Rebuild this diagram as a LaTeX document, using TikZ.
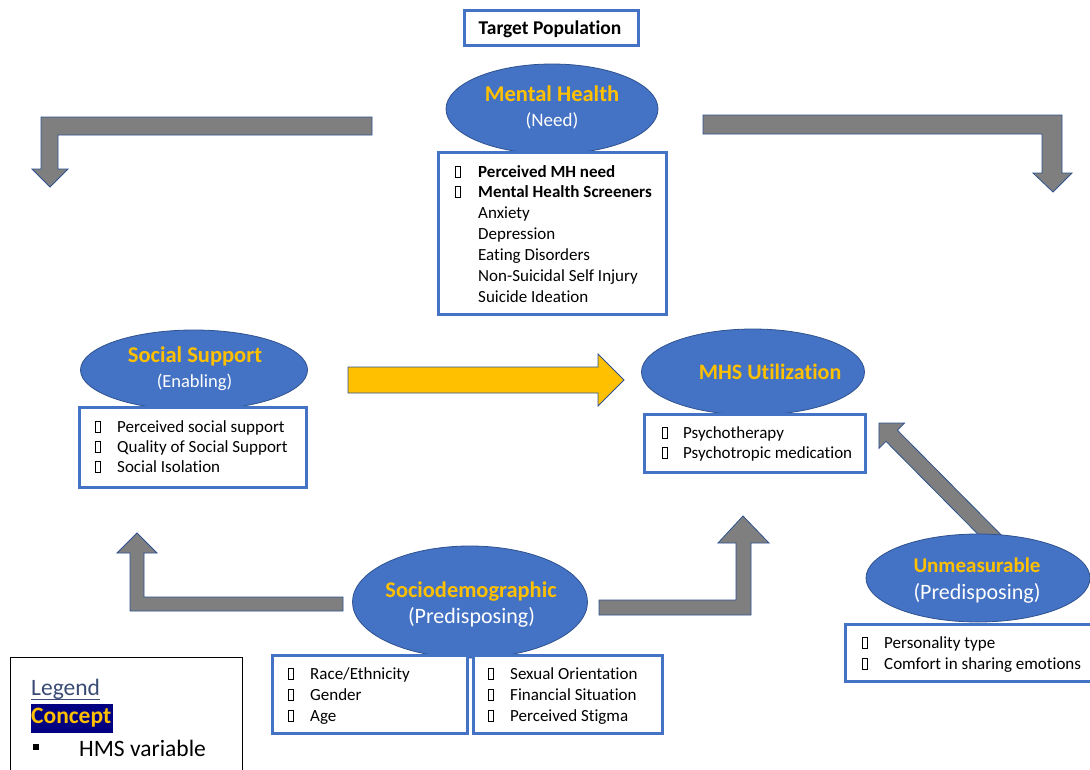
\documentclass[tikz,border=0pt]{standalone}
\usepackage{fontspec}
\setmainfont{Carlito}[Ligatures=NoCommon]
\usetikzlibrary{shapes.geometric,calc}
\definecolor{eblue}{HTML}{4472C4}
\definecolor{edark}{HTML}{2F528F}
\definecolor{ttl}{HTML}{FFC000}
\definecolor{agray}{HTML}{7F7F7F}
\definecolor{legc}{HTML}{3A4B74}
\definecolor{navyb}{HTML}{000080}
\newcommand{\tofu}{{\setlength{\fboxsep}{0pt}\setlength{\fboxrule}{0.9pt}\fbox{\rule{0pt}{10pt}\hspace{3.5pt}}}}
\newcommand{\itemline}[5]{\node[bul] (#1b) at (#2,#4) {\tofu}; \node[itm] (#1) at (#3,#4) {#5};}
\newcommand{\plainline}[4]{\node[itm] (#1) at (#2,#3) {#4};}
\tikzset{
  ell/.style={ellipse, fill=eblue, draw=edark, line width=0.8pt, inner sep=0pt},
  lbox/.style={rectangle, draw=eblue, line width=3pt, fill=white, inner sep=0pt},
  garrow/.style={fill=agray, draw=edark, line width=0.8pt, line join=miter},
  yarrow/.style={fill=ttl, draw=edark, line width=0.8pt},
  itm/.style={anchor=west, inner sep=0pt, text height=11pt, text depth=0pt, font=\fontsize{17}{20}\selectfont, text=black},
  bul/.style={anchor=west, inner sep=0pt, text height=10pt, text depth=0pt},
  ttlt/.style={inner sep=0pt, text=ttl, text height=14pt, text depth=0pt},
  subt/.style={inner sep=0pt, text=white, text height=13pt, text depth=0pt},
}
\begin{document}
\begin{tikzpicture}[x=1pt,y=-1pt]
\clip (0,0) rectangle (1090,769);
\fill[white] (0,0) rectangle (1090,769);

% gray bent arrows
\path[garrow] (372,117) -- (41,117) -- (41,169) -- (32,169) -- (50,187) -- (68,169) -- (58,169) -- (58,135) -- (372,135) -- cycle;
\path[garrow] (703,115) -- (1062,115) -- (1062,173) -- (1072,173) -- (1053,192) -- (1033,173) -- (1042,173) -- (1042,134) -- (703,134) -- cycle;
\path[garrow] (343,597) -- (144,597) -- (144,553) -- (157,553) -- (137,533) -- (117,553) -- (130,553) -- (130,611) -- (343,611) -- cycle;
\path[garrow] (599,600) -- (736,600) -- (736,543) -- (718,543) -- (743,516) -- (769,543) -- (751,543) -- (751,615) -- (599,615) -- cycle;
\path[garrow] (1004.6,538.4) -- (897.4,430.2) -- (904.5,423.1) -- (879,423) -- (878.9,448.5) -- (886.0,441.4) -- (993.2,549.6) -- cycle;
% yellow arrow
\path[yarrow] (348,367) -- (598,367) -- (598,354) -- (624,380) -- (598,406) -- (598,393) -- (348,393) -- cycle;

% Target population
\node[lbox, minimum width=174pt, minimum height=35pt] (tp) at (551.5,28) {};
\node[inner sep=0pt, text height=12.5pt, text depth=0pt, font=\fontsize{19.5}{23}\selectfont\bfseries] (tpt) at (550,28) {Target Population};

% Mental Health
\node[ell, minimum width=212pt, minimum height=90pt] (mh) at (552,109) {};
\node[ttlt, font=\fontsize{22.5}{26}\selectfont\bfseries] (mht) at (552,94) {Mental Health};
\node[subt, font=\fontsize{19}{23}\selectfont] (mhs) at (552,120) {(Need)};
\node[lbox, minimum width=228pt, minimum height=162pt] (mhb) at (552.5,233.5) {};
\itemline{mh1}{455}{478}{172}{\bfseries Perceived MH need}
\itemline{mh2}{455}{478}{192}{\bfseries Mental Health Screeners}
\plainline{mh3}{478}{213}{Anxiety}
\plainline{mh4}{478}{234}{Depression}
\plainline{mh5}{478}{255}{Eating Disorders}
\plainline{mh6}{478}{276}{Non-Suicidal Self Injury}
\plainline{mh7}{478}{297}{Suicide Ideation}

% Social Support
\node[ell, minimum width=227pt, minimum height=80pt] (ss) at (194,370) {};
\node[ttlt, font=\fontsize{22.5}{26}\selectfont\bfseries] (sst) at (195,355) {Social Support};
\node[subt, font=\fontsize{18.5}{22}\selectfont] (sss) at (194.5,381) {(Enabling)};
\node[lbox, minimum width=227pt, minimum height=80pt] (ssb) at (193,447.5) {};
\itemline{ss1}{95}{117}{427}{Perceived social support}
\itemline{ss2}{95}{117}{447}{Quality of Social Support}
\itemline{ss3}{95}{117}{467}{Social Isolation}

% MHS Utilization
\node[ell, minimum width=223pt, minimum height=86pt] (mhsu) at (753,372) {};
\node[ttlt, font=\fontsize{22}{26}\selectfont\bfseries] (mhsut) at (770,372) {MHS Utilization};
\node[lbox, minimum width=221pt, minimum height=58pt] (mhsb) at (755,443.5) {};
\itemline{mu1}{662}{683}{433}{Psychotherapy}
\itemline{mu2}{662}{683}{453}{Psychotropic medication}

% Sociodemographic
\node[ell, minimum width=235pt, minimum height=112pt] (sd) at (470,602) {};
\node[ttlt, font=\fontsize{22.4}{26}\selectfont\bfseries] (sdt) at (471,590) {Sociodemographic};
\node[subt, font=\fontsize{22}{26}\selectfont] (sds) at (471.5,617) {(Predisposing)};
\node[lbox, minimum width=195pt, minimum height=78pt] (sdl) at (370,694.5) {};
\node[lbox, minimum width=189pt, minimum height=78pt] (sdr) at (568,694.5) {};
\itemline{sd1}{288}{310}{674}{Race/Ethnicity}
\itemline{sd2}{288}{310}{695}{Gender}
\itemline{sd3}{288}{310}{716}{Age}
\itemline{sd4}{488}{510}{674}{Sexual Orientation}
\itemline{sd5}{488}{510}{695}{Financial Situation}
\itemline{sd6}{488}{510}{716}{Perceived Stigma}

% Unmeasurable
\node[ell, minimum width=224pt, minimum height=88pt] (un) at (978,578) {};
\node[ttlt, font=\fontsize{21}{25}\selectfont\bfseries] (unt) at (977,565) {Unmeasurable};
\node[subt, font=\fontsize{22}{26}\selectfont] (uns) at (977,593) {(Predisposing)};
\node[lbox, minimum width=247pt, minimum height=57pt] (unb) at (969,653) {};
\itemline{un1}{862}{884}{643}{Personality type}
\itemline{un2}{862}{884}{664}{Comfort in sharing emotions}

% Legend
\node[rectangle, draw=black, line width=1.5pt, fill=white, minimum width=232pt, minimum height=122pt, inner sep=0pt] (leg) at (126.5,718.5) {};
\node[anchor=west, inner sep=0pt, text height=15pt, text depth=0pt, text=legc, font=\fontsize{23.5}{28}\selectfont] (legt) at (31,688) {Legend};
\draw[legc, line width=1.3pt] ($(legt.south west)+(0,3.5)$) -- ($(legt.south east)+(0,3.5)$);
\node[anchor=west, fill=navyb, inner sep=0pt, minimum width=82pt, minimum height=29pt] (conc) at (31,718.5) {};
\node[anchor=west, inner sep=0pt, text height=15pt, text depth=0pt, text=ttl, font=\fontsize{23.5}{28}\selectfont\bfseries] (conct) at (31,716) {Concept};
\node[fill=black, inner sep=0pt, minimum size=6pt] (legb) at (36,747) {};
\node[anchor=west, inner sep=0pt, text height=15pt, text depth=0pt, font=\fontsize{23.5}{28}\selectfont] (legv) at (79,749) {HMS variable};
\end{tikzpicture}
\end{document}
